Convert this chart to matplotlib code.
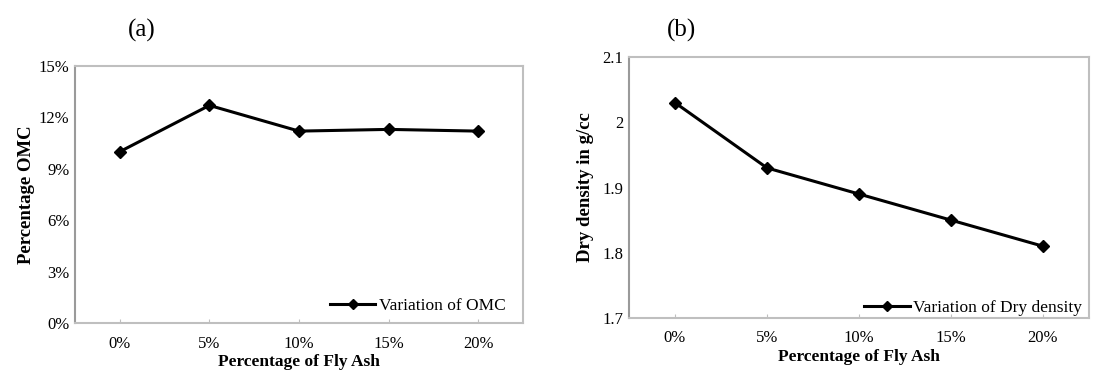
import numpy as np
import matplotlib
matplotlib.use('Agg')
import matplotlib.pyplot as plt
from matplotlib.ticker import FuncFormatter

# ---- data ----
fly_ash = ['0%', '5%', '10%', '15%', '20%']
omc = [10.0, 12.7, 11.2, 11.3, 11.2]            # percent
dry_density = [2.03, 1.93, 1.89, 1.85, 1.81]    # g/cc

plt.rcParams['font.family'] = ['Liberation Serif', 'DejaVu Serif']

BORDER = '#bfbfbf'


def style_axes(ax):
    for s in ax.spines.values():
        s.set_color(BORDER)
        s.set_linewidth(1.5)
    ax.spines['left'].set_color('#9a9a9a')
    ax.tick_params(axis='y', length=0, labelsize=12, pad=4)
    ax.tick_params(axis='x', direction='in', length=3, color=BORDER,
                   labelsize=12, pad=9)
    ax.set_xlim(-0.5, len(fly_ash) - 0.5)
    ax.set_xticks(np.arange(len(fly_ash)))
    ax.set_xticklabels(fly_ash)
    ax.set_xlabel('Percentage of Fly Ash', fontsize=12.5, fontweight='bold',
                  labelpad=2)


fig = plt.figure(figsize=(10.93, 3.72), dpi=100)
W, H = 1093, 372

# ---- (a) OMC ----
ax1 = fig.add_axes([75 / W, 1 - 323 / H, 448 / W, 257 / H])
x = np.arange(len(fly_ash))
ax1.plot(x, omc, color='black', lw=2.2, marker='D', ms=6.5,
         label='Variation of OMC')
ax1.set_ylim(0, 15)
ax1.set_yticks(np.arange(0, 16, 3))
ax1.yaxis.set_major_formatter(FuncFormatter(lambda v, p: f'{v:.0f}%'))
ax1.set_ylabel('Percentage OMC', fontsize=13.5, fontweight='bold', labelpad=3)
style_axes(ax1)
ax1.legend(loc='lower right', frameon=False, fontsize=12.5, handlelength=2.6,
           handletextpad=0.2, markerscale=0.8, borderaxespad=0.1,
           bbox_to_anchor=(0.98, 0.0))

# ---- (b) dry density ----
ax2 = fig.add_axes([629 / W, 1 - 318 / H, 460 / W, 261 / H])
ax2.plot(x, dry_density, color='black', lw=2.2, marker='D', ms=6.5,
         label='Variation of Dry density')
ax2.set_ylim(1.7, 2.1)
ax2.set_yticks([1.7, 1.8, 1.9, 2.0, 2.1])
ax2.yaxis.set_major_formatter(FuncFormatter(lambda v, p: f'{v:g}'))
ax2.set_ylabel('Dry density in g/cc', fontsize=13.5, fontweight='bold',
               labelpad=6)
style_axes(ax2)
ax2.legend(loc='lower right', frameon=False, fontsize=12.5, handlelength=2.6,
           handletextpad=0.2, markerscale=0.8, borderaxespad=0.0,
           bbox_to_anchor=(1.0, -0.02))

# panel letters
fig.text(142 / W, 1 - 30 / H, '(a)', fontsize=18, ha='center', va='center')
fig.text(681 / W, 1 - 30 / H, '(b)', fontsize=18, ha='center', va='center')

fig.savefig('out.png', dpi=100)
